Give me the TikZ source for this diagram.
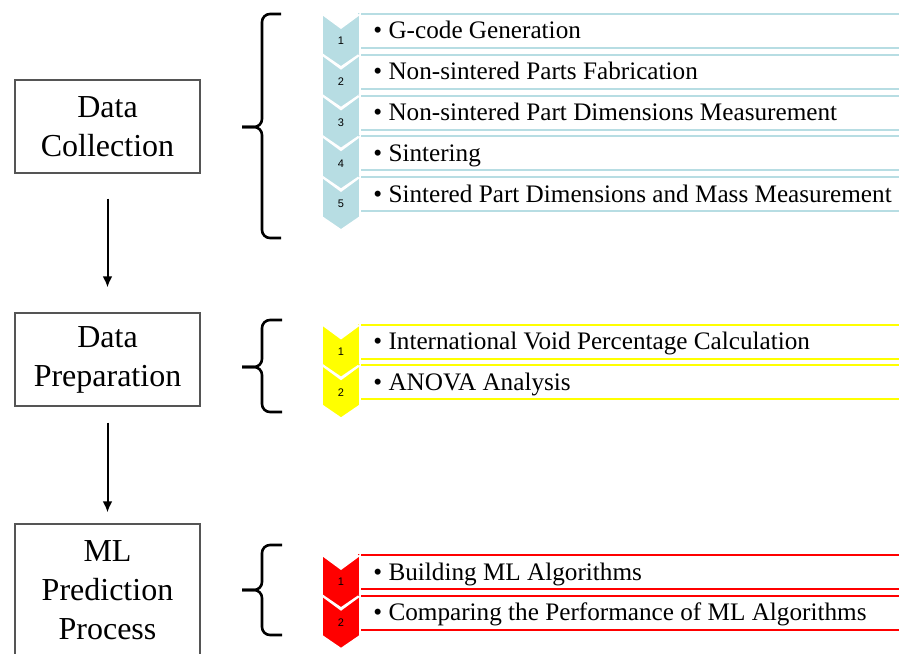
\documentclass[tikz,border=0pt]{standalone}
\usepackage{fontspec}
\setmainfont{Liberation Serif}
\newfontfamily\numfont{Liberation Sans}
\usetikzlibrary{arrows.meta,positioning,calc}
\definecolor{stepblue}{HTML}{B7DDE3}
\definecolor{stepyellow}{HTML}{FFFF00}
\definecolor{stepred}{HTML}{FF0000}
\definecolor{boxgray}{HTML}{555555}

\tikzset{
  phasebox/.style={draw=boxgray, line width=0.7pt, minimum width=92.5pt, align=center,
    font=\fontsize{16}{19.5}\selectfont, inner sep=0pt},
  flowarrow/.style={line width=1pt, -{Latex[length=5.5pt,width=5pt]}},
  groupbrace/.style={line width=1.3pt, rounded corners=4pt},
  itemtext/.style={anchor=base west, inner sep=0pt, font=\fontsize{12.6}{14}\selectfont},
  stepnum/.style={inner sep=0pt, font=\numfont\fontsize{5.5}{6}\selectfont}
}

\begin{document}
\begin{tikzpicture}[x=0.5pt,y=-0.5pt]
\path[use as bounding box, clip] (0,0) rectangle (899,653);
% phases
\node[phasebox, minimum height=46.5pt] (collect) at (107.5,126.5) {Data\\Collection};
\node[phasebox, minimum height=46.5pt] (prep) at (107.5,359.5) {Data\\Preparation};
\node[phasebox, minimum height=66pt] (mlproc) at (107.5,590) {ML\\Prediction\\Process};
\draw[flowarrow, shorten <=12.5pt, shorten >=12.5pt] (collect) -- (prep);
\draw[flowarrow, shorten <=8pt, shorten >=5.5pt] (prep) -- (mlproc);
% braces
\draw[groupbrace] (281,14) -- (262,14) -- (262,127) -- (242,127);
\draw[groupbrace] (242,127) -- (262,127) -- (262,238) -- (281,238);
\draw[groupbrace] (282,320) -- (262,320) -- (262,367) -- (242,367);
\draw[groupbrace] (242,367) -- (262,367) -- (262,412) -- (282,412);
\draw[groupbrace] (282,545) -- (262,545) -- (262,590) -- (242,590);
\draw[groupbrace] (242,590) -- (262,590) -- (262,635) -- (282,635);
% data collection steps
\foreach \n/\txt in {1/G-code Generation, 2/Non-sintered Parts Fabrication,
  3/Non-sintered Part Dimensions Measurement, 4/Sintering,
  5/Sintered Part Dimensions and Mass Measurement} {
  \pgfmathsetmacro\t{14+40.75*(\n-1)}
  \draw[stepblue, line width=1pt] (359,\t) rectangle (910,{\t+34});
  \filldraw[fill=stepblue, draw=white, line width=0.8pt] (322,\t) -- (341,{\t+14}) -- (360,\t)
    -- (360,{\t+40}) -- (341,{\t+53}) -- (322,{\t+40}) -- cycle;
  \node[stepnum] (dcnum-\n) at (341,{\t+27}) {\n};
  \node[itemtext] (dc-\n) at (373,{\t+25}) {\textbullet\ \txt};
}
% data preparation steps
\foreach \n/\txt in {1/International Void Percentage Calculation, 2/ANOVA Analysis} {
  \pgfmathsetmacro\t{324.5+40.75*(\n-1)}
  \draw[stepyellow, line width=1pt] (359,\t) rectangle (910,{\t+34});
  \filldraw[fill=stepyellow, draw=white, line width=0.8pt] (322,\t) -- (341,{\t+14}) -- (360,\t)
    -- (360,{\t+40}) -- (341,{\t+53}) -- (322,{\t+40}) -- cycle;
  \node[stepnum] (dpnum-\n) at (341,{\t+27}) {\n};
  \node[itemtext] (dp-\n) at (373,{\t+25}) {\textbullet\ \txt};
}
% ml steps
\foreach \n/\txt in {1/Building ML Algorithms, 2/Comparing the Performance of ML Algorithms} {
  \pgfmathsetmacro\t{555+40.75*(\n-1)}
  \draw[stepred, line width=1pt] (359,\t) rectangle (910,{\t+34});
  \filldraw[fill=stepred, draw=white, line width=0.8pt] (322,\t) -- (341,{\t+14}) -- (360,\t)
    -- (360,{\t+40}) -- (341,{\t+53}) -- (322,{\t+40}) -- cycle;
  \node[stepnum] (mlnum-\n) at (341,{\t+27}) {\n};
  \node[itemtext] (ml-\n) at (373,{\t+25}) {\textbullet\ \txt};
}
\end{tikzpicture}
\end{document}
